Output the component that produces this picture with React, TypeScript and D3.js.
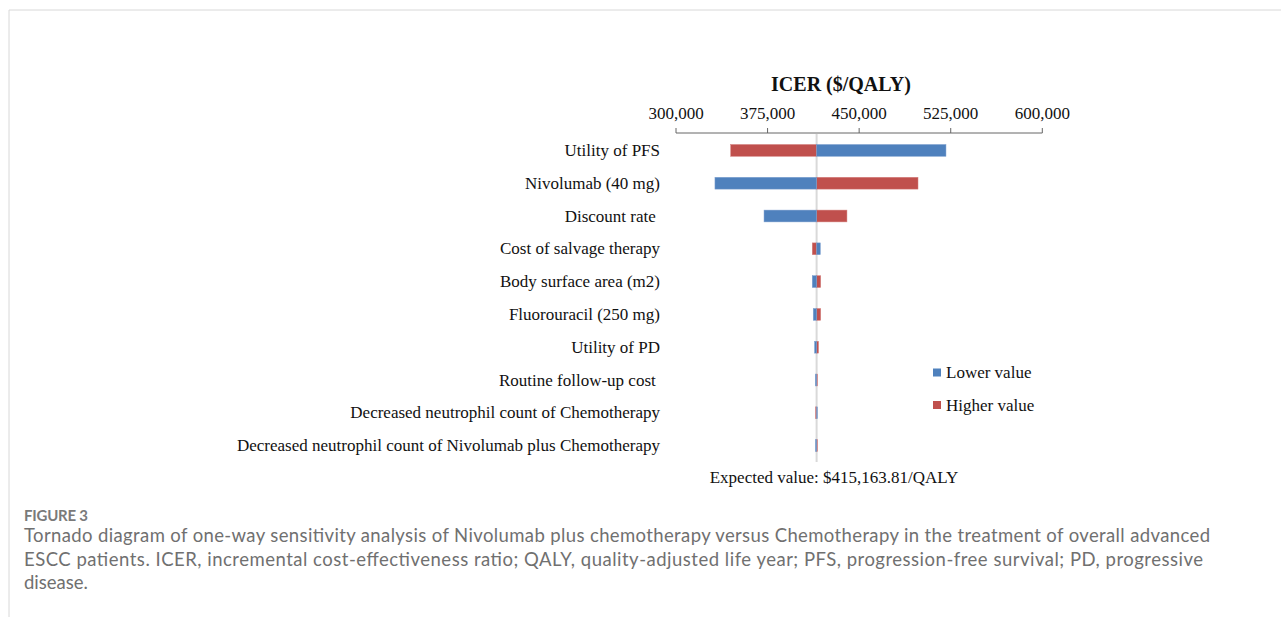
import React from "react";
import * as d3 from "d3";

const parameters = [
  "Utility of PFS",
  "Nivolumab (40 mg)",
  "Discount rate ",
  "Cost of salvage therapy",
  "Body surface area (m2)",
  "Fluorouracil (250 mg)",
  "Utility of PD",
  "Routine follow-up cost ",
  "Decreased neutrophil count of Chemotherapy",
  "Decreased neutrophil count of Nivolumab plus Chemotherapy",
];
const lowerValues = [521100, 331900, 372100, 418200, 411600, 412400, 413500, 414100, 415300, 414200];
const higherValues = [344800, 498200, 440000, 411600, 418500, 418500, 416700, 415300, 414300, 415300];
const baseValue = 415163.81;
const tickValues = [300000, 375000, 450000, 525000, 600000];
const seriesNames = ["Lower value", "Higher value"];
const seriesColors = ["#4F81BD", "#C0504D"];
const captionLines = [
  "Tornado diagram of one-way sensitivity analysis of Nivolumab plus chemotherapy versus Chemotherapy in the treatment of overall advanced",
  "ESCC patients. ICER, incremental cost-effectiveness ratio; QALY, quality-adjusted life year; PFS, progression-free survival; PD, progressive",
  "disease.",
];

export default function App() {
  const W = 1281, H = 617;
  const x = d3.scaleLinear().domain([300000, 600000]).range([676, 1042.3]);
  const y = d3.scaleBand<string>().domain(parameters).range([134, 462]).paddingInner(0.64).paddingOuter(0.32);
  const fmt = d3.format(",");
  const serif = "'Liberation Serif', 'Times New Roman', serif";
  const sans = "Lato, 'Open Sans', sans-serif";
  const axisY = 133;
  const bx = x(baseValue);

  const bar = (v: number, i: number, s: number) => {
    const x0 = Math.min(v, baseValue), x1 = Math.max(v, baseValue);
    return (
      <rect key={`b${s}-${i}`} x={x(x0)} y={y(parameters[i])} width={Math.max(0.8, x(x1) - x(x0))}
        height={y.bandwidth()} fill={seriesColors[s]} stroke={s === 0 ? "#7da0cf" : "#d47f7c"} strokeWidth={0.5} />
    );
  };

  return (
    <div style={{ position: "absolute", left: 0, top: 0 }}>
      <svg width={W} height={H} style={{ display: "block", background: "#fff" }}>
        <line x1={9} y1={10} x2={W} y2={10} stroke="#d8d8d8" strokeWidth={1} />
        <line x1={9} y1={10} x2={9} y2={H} stroke="#d8d8d8" strokeWidth={1} />

        <text x={841} y={91} textAnchor="middle" fontFamily={serif} fontWeight="bold" fontSize={20} fill="#111">ICER ($/QALY)</text>

        <line x1={x(300000)} x2={x(600000)} y1={axisY} y2={axisY} stroke="#666" strokeWidth={1} />
        {tickValues.map((t) => (
          <g key={t}>
            <line x1={x(t)} x2={x(t)} y1={axisY} y2={axisY - 5} stroke="#666" strokeWidth={1} />
            <text x={x(t)} y={119} textAnchor="middle" fontFamily={serif} fontSize={17} fill="#111">{fmt(t)}</text>
          </g>
        ))}

        <line x1={bx} x2={bx} y1={axisY + 1} y2={462} stroke="#d9d9d9" strokeWidth={2} />

        {parameters.map((p, i) => bar(higherValues[i], i, 1))}
        {parameters.map((p, i) => bar(lowerValues[i], i, 0))}

        {parameters.map((p) => (
          <text key={p} x={660} y={(y(p) as number) + y.bandwidth() / 2 + 5.5} textAnchor="end"
            fontFamily={serif} fontSize={17} fill="#111" style={{ whiteSpace: "pre" }}>{p}</text>
        ))}

        {seriesNames.map((n, i) => (
          <g key={n}>
            <rect x={933} y={368.5 + i * 32.5} width={8} height={8} fill={seriesColors[i]} />
            <text x={946} y={378 + i * 32.5} fontFamily={serif} fontSize={17} fill="#111">{n}</text>
          </g>
        ))}

        <text x={834} y={483} textAnchor="middle" fontFamily={serif} fontSize={17} fill="#111">
          {`Expected value: $${d3.format(",.2f")(baseValue)}/QALY`}
        </text>

        <text x={24} y={521} fontFamily={sans} fontWeight="bold" fontSize={15} fill="#7a7a7a"
          textLength={64} lengthAdjust="spacing">FIGURE 3</text>
        {captionLines.map((l, i) => (
          <text key={i} x={24} y={542 + i * 23.5} fontFamily={sans} fontSize={18.5} fill="#707070"
            textLength={i === 0 ? 1186 : i === 1 ? 1179 : undefined} lengthAdjust="spacing">{l}</text>
        ))}
      </svg>
    </div>
  );
}
